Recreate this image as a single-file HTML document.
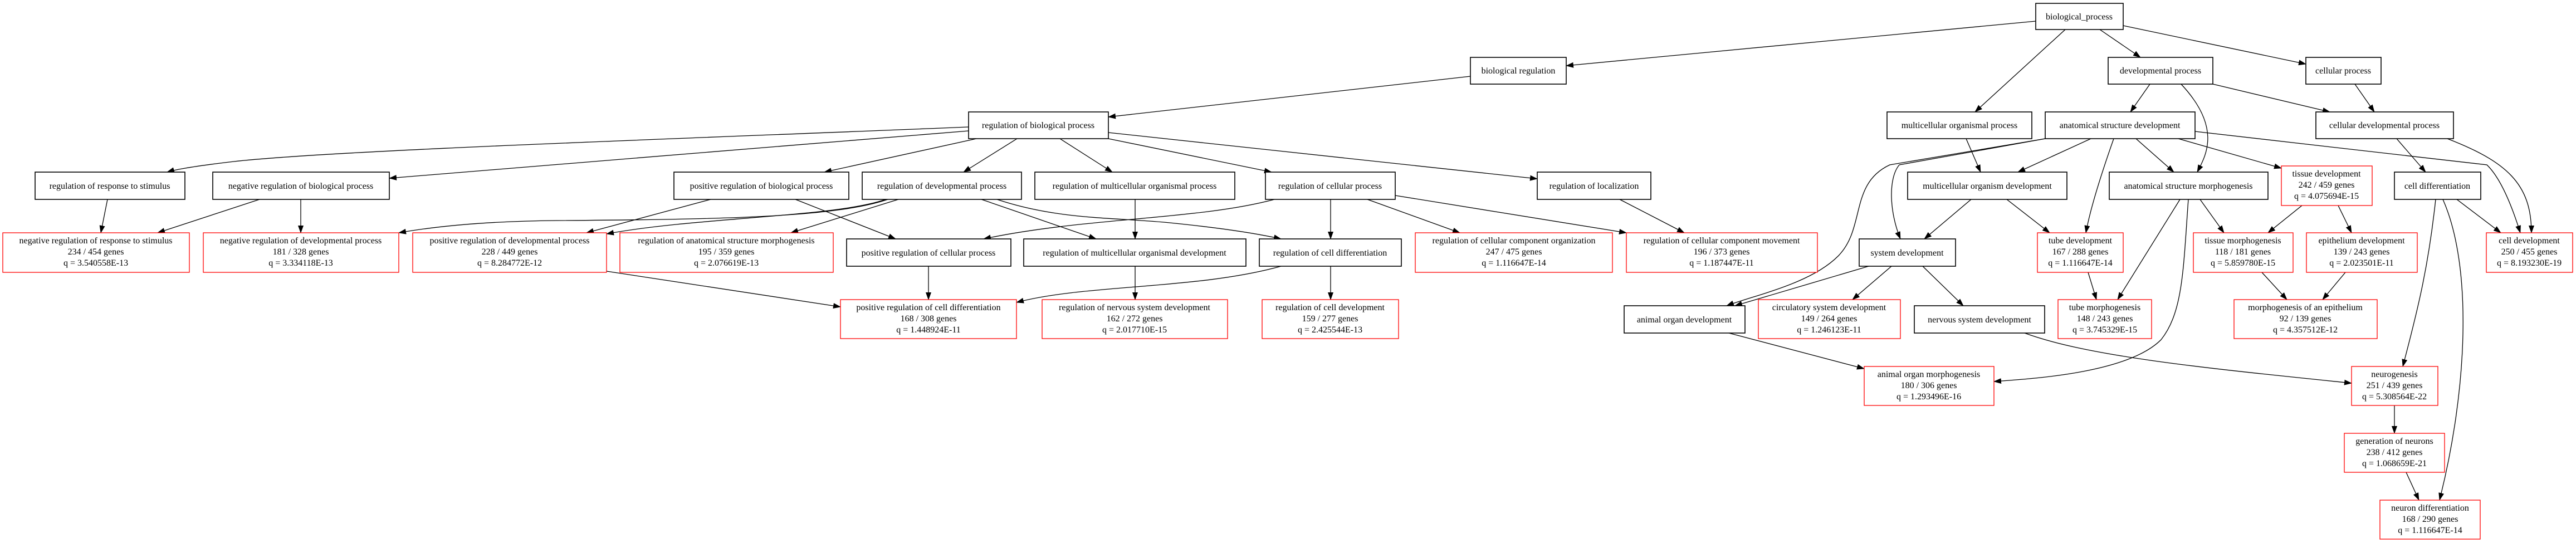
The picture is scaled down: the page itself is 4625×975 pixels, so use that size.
<!DOCTYPE html>
<html><head><meta charset="utf-8"><style>
html,body{margin:0;padding:0;background:#fff}
svg{display:block}
text{font-family:"Liberation Serif",serif;font-size:16px;text-anchor:middle;fill:#000}
.b{fill:#fff;stroke:#000;stroke-width:1.6}
.r{fill:#fff;stroke:#f00;stroke-width:1.3}
.e{fill:none;stroke:#000;stroke-width:1.3;marker-end:url(#a)}
</style></head><body>
<svg width="4625" height="975" viewBox="0 0 4625 975" xmlns="http://www.w3.org/2000/svg">
<defs><marker id="a" markerWidth="14" markerHeight="10" refX="13" refY="5" orient="auto" markerUnits="userSpaceOnUse"><path d="M0,0 L14,5 L0,10 z" fill="#000"/></marker></defs>

<!-- edges -->
<g>
<path class="e" d="M3655,38 L2812,118"/>
<path class="e" d="M3708,53 L3546,201"/>
<path class="e" d="M3770,53 L3843,103"/>
<path class="e" d="M3812,46 L4140,115"/>
<path class="e" d="M2640,137 L1990,210"/>
<path class="e" d="M3860,151 L3825,201"/>
<path class="e" d="M3916,151 C3990,230 3960,280 3945,309"/>
<path class="e" d="M3973,151 L4183,201"/>
<path class="e" d="M4228,151 L4263,201"/>
<path class="e" d="M3530,249 L3556,309"/>
<path class="e" d="M3754,249 L3623,309"/>
<path class="e" d="M3835,249 L3903,309"/>
<path class="e" d="M3911,249 L4096,302"/>
<path class="e" d="M3795,249 C3770,320 3752,380 3745,418"/>
<path class="e" d="M3672,249 L3410,296 C3390,320 3392,380 3412,429"/>
<path class="e" d="M3672,249 L3393,296 C3320,330 3350,410 3300,460 C3250,510 3150,530 3100,549"/>
<path class="e" d="M3941,236 L4465,296 C4490,320 4510,370 4525,418"/>
<path class="e" d="M4303,249 L4355,309"/>
<path class="e" d="M4394,249 C4500,290 4545,330 4545,418"/>
<path class="e" d="M3539,358 L3455,429"/>
<path class="e" d="M3603,358 L3680,418"/>
<path class="e" d="M3914,358 L3802,538"/>
<path class="e" d="M3950,358 L3993,418"/>
<path class="e" d="M3929,358 C3920,480 3920,560 3880,610 C3820,670 3650,680 3580,685"/>
<path class="e" d="M4133,369 L4072,418"/>
<path class="e" d="M4198,369 L4222,418"/>
<path class="e" d="M4411,358 L4490,418"/>
<path class="e" d="M4373,358 C4360,480 4340,560 4314,658"/>
<path class="e" d="M4386,358 C4440,480 4430,700 4380,898"/>
<path class="e" d="M3355,478 L3115,549"/>
<path class="e" d="M3396,478 L3326,538"/>
<path class="e" d="M3452,478 L3525,549"/>
<path class="e" d="M3749,489 L3764,538"/>
<path class="e" d="M4061,489 L4106,538"/>
<path class="e" d="M4211,489 L4170,538"/>
<path class="e" d="M3635,598 C3750,640 3950,660 4222,688"/>
<path class="e" d="M3104,598 L3347,662"/>
<path class="e" d="M4299,728 L4299,778"/>
<path class="e" d="M4320,848 L4343,898"/>

<path class="e" d="M1739,228 C1200,250 600,270 420,290 C360,297 320,303 300,309"/>
<path class="e" d="M1739,235 L699,320"/>
<path class="e" d="M1753,249 L1480,309"/>
<path class="e" d="M1826,249 L1730,309"/>
<path class="e" d="M1903,249 L1997,309"/>
<path class="e" d="M1990,249 L2283,309"/>
<path class="e" d="M1990,238 L2760,321"/>
<path class="e" d="M466,358 L283,418"/>
<path class="e" d="M540,358 L540,418"/>
<path class="e" d="M193,358 L181,418"/>
<path class="e" d="M1276,358 L1053,418"/>
<path class="e" d="M1428,358 L1608,429"/>
<path class="e" d="M1594,358 C1500,390 1300,394 1000,396 C880,397 790,405 716,418"/>
<path class="e" d="M1590,358 C1500,390 1250,390 1089,420"/>
<path class="e" d="M1613,358 L1420,418"/>
<path class="e" d="M1762,358 L1968,429"/>
<path class="e" d="M1790,358 C1900,395 2000,390 2100,400 C2200,410 2260,420 2300,429"/>
<path class="e" d="M2038,358 L2038,429"/>
<path class="e" d="M2288,358 C2150,395 1950,390 1766,429"/>
<path class="e" d="M2389,358 L2389,429"/>
<path class="e" d="M2455,358 L2621,418"/>
<path class="e" d="M2505,351 L2920,418"/>
<path class="e" d="M2908,358 L3024,418"/>
<path class="e" d="M1089,487 L1509,551"/>
<path class="e" d="M1667,478 L1667,538"/>
<path class="e" d="M2300,478 C2150,520 1950,510 1825,543"/>
<path class="e" d="M2038,478 L2038,538"/>
<path class="e" d="M2389,478 L2389,538"/>
</g>

<!-- black nodes -->
<g>
<rect class="b" x="3655" y="6" width="157" height="47"/><text x="3733" y="35">biological_process</text>
<rect class="b" x="2640" y="103" width="172" height="48"/><text x="2726" y="132">biological regulation</text>
<rect class="b" x="3785" y="103" width="188" height="48"/><text x="3879" y="132">developmental process</text>
<rect class="b" x="4140" y="103" width="135" height="48"/><text x="4207" y="132">cellular process</text>
<rect class="b" x="1739" y="201" width="251" height="48"/><text x="1864" y="230">regulation of biological process</text>
<rect class="b" x="3388" y="201" width="260" height="48"/><text x="3518" y="230">multicellular organismal process</text>
<rect class="b" x="3672" y="201" width="269" height="48"/><text x="3806" y="230">anatomical structure development</text>
<rect class="b" x="4158" y="201" width="247" height="48"/><text x="4281" y="230">cellular developmental process</text>
<rect class="b" x="63" y="309" width="269" height="49"/><text x="197" y="339">regulation of response to stimulus</text>
<rect class="b" x="382" y="309" width="317" height="49"/><text x="540" y="339">negative regulation of biological process</text>
<rect class="b" x="1210" y="309" width="314" height="49"/><text x="1367" y="339">positive regulation of biological process</text>
<rect class="b" x="1548" y="309" width="286" height="49"/><text x="1691" y="339">regulation of developmental process</text>
<rect class="b" x="1858" y="309" width="359" height="49"/><text x="2037" y="339">regulation of multicellular organismal process</text>
<rect class="b" x="2272" y="309" width="233" height="49"/><text x="2388" y="339">regulation of cellular process</text>
<rect class="b" x="2760" y="309" width="204" height="49"/><text x="2862" y="339">regulation of localization</text>
<rect class="b" x="3425" y="309" width="286" height="49"/><text x="3568" y="339">multicellular organism development</text>
<rect class="b" x="3787" y="309" width="285" height="49"/><text x="3929" y="339">anatomical structure morphogenesis</text>
<rect class="b" x="4299" y="309" width="155" height="49"/><text x="4376" y="339">cell differentiation</text>
<rect class="b" x="1520" y="429" width="295" height="49"/><text x="1667" y="459">positive regulation of cellular process</text>
<rect class="b" x="1838" y="429" width="399" height="49"/><text x="2037" y="459">regulation of multicellular organismal development</text>
<rect class="b" x="2261" y="429" width="255" height="49"/><text x="2388" y="459">regulation of cell differentiation</text>
<rect class="b" x="3338" y="429" width="173" height="49"/><text x="3424" y="459">system development</text>
<rect class="b" x="2916" y="549" width="217" height="49"/><text x="3024" y="579">animal organ development</text>
<rect class="b" x="3437" y="549" width="234" height="49"/><text x="3554" y="579">nervous system development</text>
</g>

<!-- red nodes -->
<g>
<rect class="r" x="5" y="418" width="335" height="71"/><text x="172" y="437">negative regulation of response to stimulus</text><text x="172" y="457">234 / 454 genes</text><text x="172" y="477">q = 3.540558E-13</text>
<rect class="r" x="365" y="418" width="351" height="71"/><text x="540" y="437">negative regulation of developmental process</text><text x="540" y="457">181 / 328 genes</text><text x="540" y="477">q = 3.334118E-13</text>
<rect class="r" x="741" y="418" width="348" height="71"/><text x="915" y="437">positive regulation of developmental process</text><text x="915" y="457">228 / 449 genes</text><text x="915" y="477">q = 8.284772E-12</text>
<rect class="r" x="1113" y="418" width="383" height="71"/><text x="1304" y="437">regulation of anatomical structure morphogenesis</text><text x="1304" y="457">195 / 359 genes</text><text x="1304" y="477">q = 2.076619E-13</text>
<rect class="r" x="2541" y="418" width="354" height="71"/><text x="2718" y="437">regulation of cellular component organization</text><text x="2718" y="457">247 / 475 genes</text><text x="2718" y="477">q = 1.116647E-14</text>
<rect class="r" x="2920" y="418" width="343" height="71"/><text x="3091" y="437">regulation of cellular component movement</text><text x="3091" y="457">196 / 373 genes</text><text x="3091" y="477">q = 1.187447E-11</text>
<rect class="r" x="4096" y="298" width="163" height="71"/><text x="4177" y="317">tissue development</text><text x="4177" y="337">242 / 459 genes</text><text x="4177" y="357">q = 4.075694E-15</text>
<rect class="r" x="3658" y="418" width="154" height="71"/><text x="3735" y="437">tube development</text><text x="3735" y="457">167 / 288 genes</text><text x="3735" y="477">q = 1.116647E-14</text>
<rect class="r" x="3938" y="418" width="179" height="71"/><text x="4027" y="437">tissue morphogenesis</text><text x="4027" y="457">118 / 181 genes</text><text x="4027" y="477">q = 5.859780E-15</text>
<rect class="r" x="4141" y="418" width="199" height="71"/><text x="4240" y="437">epithelium development</text><text x="4240" y="457">139 / 243 genes</text><text x="4240" y="477">q = 2.023501E-11</text>
<rect class="r" x="4464" y="418" width="155" height="71"/><text x="4541" y="437">cell development</text><text x="4541" y="457">250 / 455 genes</text><text x="4541" y="477">q = 8.193230E-19</text>
<rect class="r" x="1509" y="538" width="316" height="70"/><text x="1667" y="557">positive regulation of cell differentiation</text><text x="1667" y="577">168 / 308 genes</text><text x="1667" y="597">q = 1.448924E-11</text>
<rect class="r" x="1871" y="538" width="333" height="70"/><text x="2037" y="557">regulation of nervous system development</text><text x="2037" y="577">162 / 272 genes</text><text x="2037" y="597">q = 2.017710E-15</text>
<rect class="r" x="2266" y="538" width="245" height="70"/><text x="2388" y="557">regulation of cell development</text><text x="2388" y="577">159 / 277 genes</text><text x="2388" y="597">q = 2.425544E-13</text>
<rect class="r" x="3157" y="538" width="255" height="70"/><text x="3284" y="557">circulatory system development</text><text x="3284" y="577">149 / 264 genes</text><text x="3284" y="597">q = 1.246123E-11</text>
<rect class="r" x="3695" y="538" width="168" height="70"/><text x="3779" y="557">tube morphogenesis</text><text x="3779" y="577">148 / 243 genes</text><text x="3779" y="597">q = 3.745329E-15</text>
<rect class="r" x="4011" y="538" width="257" height="70"/><text x="4139" y="557">morphogenesis of an epithelium</text><text x="4139" y="577">92 / 139 genes</text><text x="4139" y="597">q = 4.357512E-12</text>
<rect class="r" x="3347" y="658" width="233" height="70"/><text x="3463" y="677">animal organ morphogenesis</text><text x="3463" y="697">180 / 306 genes</text><text x="3463" y="717">q = 1.293496E-16</text>
<rect class="r" x="4222" y="658" width="155" height="70"/><text x="4299" y="677">neurogenesis</text><text x="4299" y="697">251 / 439 genes</text><text x="4299" y="717">q = 5.308564E-22</text>
<rect class="r" x="4209" y="778" width="180" height="70"/><text x="4299" y="797">generation of neurons</text><text x="4299" y="817">238 / 412 genes</text><text x="4299" y="837">q = 1.068659E-21</text>
<rect class="r" x="4273" y="898" width="180" height="70"/><text x="4363" y="917">neuron differentiation</text><text x="4363" y="937">168 / 290 genes</text><text x="4363" y="957">q = 1.116647E-14</text>
</g>
</svg>
</body></html>
